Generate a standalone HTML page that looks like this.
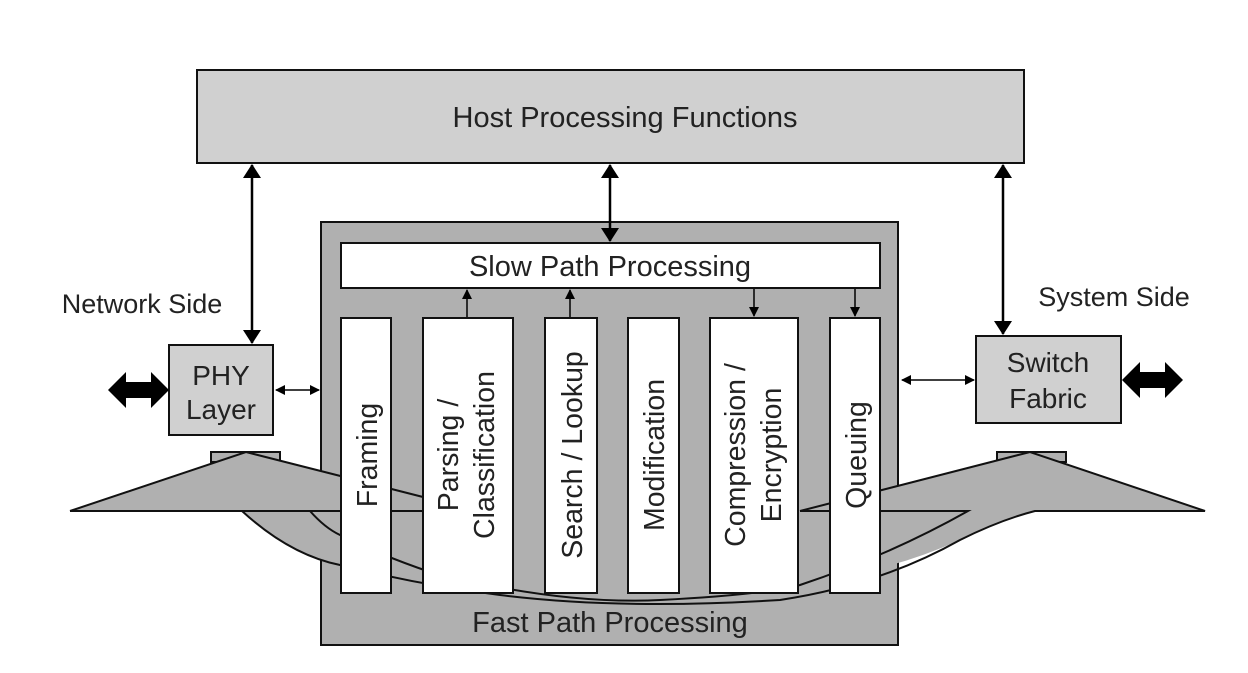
<!DOCTYPE html>
<html><head><style>
body{margin:0;background:#fff;}
svg text{font-family:"Liberation Sans",sans-serif;fill:#222;}
</style></head><body>
<svg width="1248" height="668" viewBox="0 0 1248 668" xmlns="http://www.w3.org/2000/svg">
<defs>
<marker id="a" markerWidth="10" markerHeight="10" refX="9" refY="5" orient="auto-start-reverse" markerUnits="userSpaceOnUse"><path d="M0,0 L10,5 L0,10 z" fill="#000"/></marker>
<marker id="b" markerWidth="14" markerHeight="18" refX="13" refY="9" orient="auto-start-reverse" markerUnits="userSpaceOnUse"><path d="M0,0 L14,9 L0,18 z" fill="#000"/></marker>
</defs>
<rect x="197" y="70" width="827" height="93" fill="#d0d0d0" stroke="#111" stroke-width="2"/>
<text x="625" y="127" font-size="29" text-anchor="middle">Host Processing Functions</text>
<rect x="321" y="222" width="577" height="423" fill="#b0b0b0" stroke="#111" stroke-width="2"/>
<rect x="211" y="452" width="69" height="10" fill="#b0b0b0" stroke="#111" stroke-width="2"/>
<rect x="997" y="452" width="69" height="10" fill="#b0b0b0" stroke="#111" stroke-width="2"/>
<path d="M70,511 L246,452 L340,475 L340,565 Q290,555 242,511 Z" fill="#b0b0b0"/>
<path d="M1205,511 L1030,452 L880,490 L880,568 Q920,558 960,540 Q1000,520 1035,511 Z" fill="#b0b0b0"/>
<g fill="none" stroke="#111" stroke-width="2">
<path d="M70,511 L246,452 L423,497"/>
<path d="M70,511 L423,511"/>
<path d="M242,511 Q290,555 340,565 Q420,585 500,595 Q620,610 780,600 Q880,585 960,540 Q1000,520 1035,511 L1205,511 L1030,452 L800,511"/>
<path d="M310,511 Q325,528 340,535 Q380,555 430,572 Q560,605 660,600 Q760,595 800,585 Q890,555 968,511 L800,511"/>
</g>
<rect x="341" y="243" width="539" height="45" fill="#fff" stroke="#111" stroke-width="2"/>
<text x="610" y="276" font-size="29" text-anchor="middle">Slow Path Processing</text>
<g fill="#fff" stroke="#111" stroke-width="2">
<rect x="341" y="318" width="50" height="275"/>
<rect x="423" y="318" width="90" height="275"/>
<rect x="545" y="318" width="52" height="275"/>
<rect x="628" y="318" width="51" height="275"/>
<rect x="710" y="318" width="88" height="275"/>
<rect x="830" y="318" width="50" height="275"/>
</g>
<g font-size="28.5" text-anchor="middle">
<text transform="translate(377,455) rotate(-90)">Framing</text>
<text transform="translate(458,455) rotate(-90)">Parsing /</text>
<text transform="translate(494,455) rotate(-90)">Classification</text>
<text transform="translate(582,455) rotate(-90)">Search / Lookup</text>
<text transform="translate(664,455) rotate(-90)">Modification</text>
<text transform="translate(745,455) rotate(-90)">Compression /</text>
<text transform="translate(781,455) rotate(-90)">Encryption</text>
<text transform="translate(866,455) rotate(-90)">Queuing</text>
</g>
<text x="610" y="632" font-size="29" text-anchor="middle">Fast Path Processing</text>
<rect x="169" y="345" width="104" height="90" fill="#d0d0d0" stroke="#111" stroke-width="2"/>
<text x="221" y="385" font-size="28" text-anchor="middle">PHY</text>
<text x="221" y="419" font-size="28" text-anchor="middle">Layer</text>
<rect x="976" y="336" width="145" height="87" fill="#d0d0d0" stroke="#111" stroke-width="2"/>
<text x="1048" y="372" font-size="28" text-anchor="middle">Switch</text>
<text x="1048" y="408" font-size="28" text-anchor="middle">Fabric</text>
<text x="142" y="313" font-size="27" text-anchor="middle">Network Side</text>
<text x="1114" y="306" font-size="27" text-anchor="middle">System Side</text>
<g stroke="#000" stroke-width="2.5" fill="none">
<line x1="252" y1="165" x2="252" y2="343" marker-start="url(#b)" marker-end="url(#b)"/>
<line x1="610" y1="165" x2="610" y2="241" marker-start="url(#b)" marker-end="url(#b)"/>
<line x1="1003" y1="165" x2="1003" y2="334" marker-start="url(#b)" marker-end="url(#b)"/>
<line x1="276" y1="390" x2="319" y2="390" stroke-width="1.5" marker-start="url(#a)" marker-end="url(#a)"/>
<line x1="902" y1="380" x2="974" y2="380" stroke-width="1.5" marker-start="url(#a)" marker-end="url(#a)"/>
<line x1="467" y1="317" x2="467" y2="290" stroke-width="1.5" marker-end="url(#a)"/>
<line x1="570" y1="317" x2="570" y2="290" stroke-width="1.5" marker-end="url(#a)"/>
<line x1="754" y1="289" x2="754" y2="316" stroke-width="1.5" marker-end="url(#a)"/>
<line x1="855" y1="289" x2="855" y2="316" stroke-width="1.5" marker-end="url(#a)"/>
</g>
<path d="M108,390 L126,372 L126,382 L151,382 L151,372 L169,390 L151,408 L151,398 L126,398 L126,408 Z" fill="#000"/>
<path d="M1122,380 L1140,362 L1140,372 L1165,372 L1165,362 L1183,380 L1165,398 L1165,388 L1140,388 L1140,398 Z" fill="#000"/>
</svg>
</body></html>
